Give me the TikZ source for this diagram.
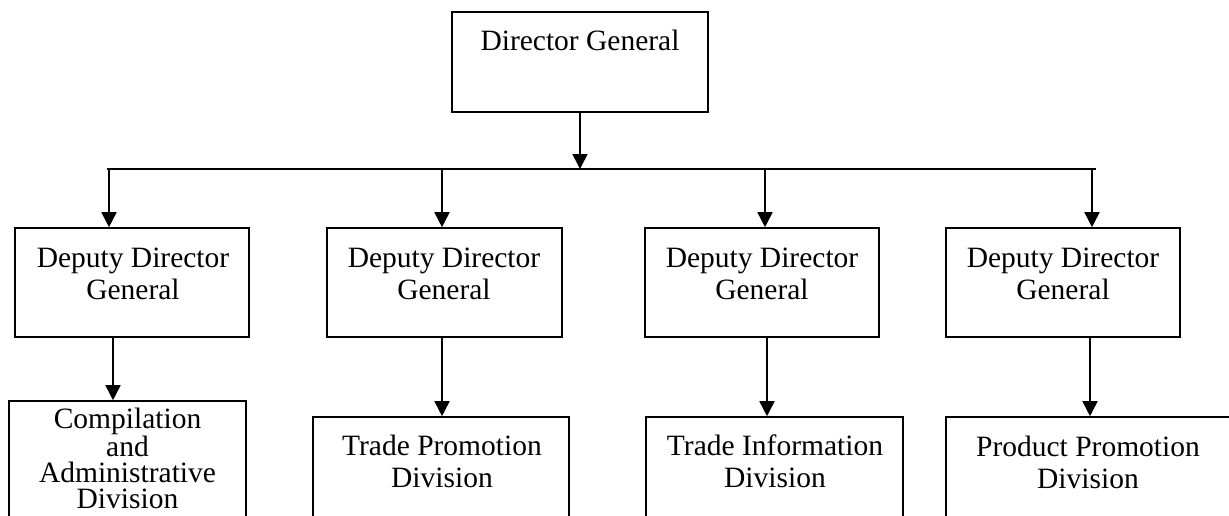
\documentclass[tikz,border=0pt]{standalone}
\usepackage{fontspec}
\setmainfont{Liberation Serif}
\usetikzlibrary{arrows.meta}
\begin{document}
\begin{tikzpicture}[x=1pt,y=-1pt,
  box/.style={draw, line width=1.6pt, rectangle, inner sep=0pt},
  lbl/.style={font=\fontsize{29.5}{32}\selectfont, align=center, inner sep=0pt, anchor=base},
  tight/.style={font=\fontsize{29.5}{25.7}\selectfont},
  link/.style={line width=1.6pt},
  arr/.style={link, -{Triangle[width=15pt,length=15pt]}}]

\path[use as bounding box] (0,0) rectangle (1229,515);
\clip (0,0) rectangle (1229,515);

% boxes
\node[box, minimum width=256pt, minimum height=100pt] (dg) at (580,62) {};
\node[box, minimum width=234pt, minimum height=109pt] (d1) at (132,282.5) {};
\node[box, minimum width=235pt, minimum height=109pt] (d2) at (444.5,282.5) {};
\node[box, minimum width=234pt, minimum height=109pt] (d3) at (762,282.5) {};
\node[box, minimum width=234pt, minimum height=109pt] (d4) at (1063,282.5) {};
\node[box, minimum width=237pt, minimum height=139pt] (b1) at (127.5,470.5) {};
\node[box, minimum width=256pt, minimum height=123pt] (b2) at (441,478.5) {};
\node[box, minimum width=257pt, minimum height=123pt] (b3) at (774.5,478.5) {};
\node[box, minimum width=284pt, minimum height=123pt] (b4) at (1088,478.5) {};

% labels (anchored on the baseline of their last line)
\node[lbl] (dgt) at (580,50) {Director General};
\node[lbl] (d1t) at (133,299) {Deputy Director\\General};
\node[lbl] (d2t) at (444,299) {Deputy Director\\General};
\node[lbl] (d3t) at (762,299) {Deputy Director\\General};
\node[lbl] (d4t) at (1063,299) {Deputy Director\\General};
\node[lbl, tight] (b1t) at (127.5,508) {Compilation\\and\\Administrative\\Division};
\node[lbl] (b2t) at (442,487) {Trade Promotion\\Division};
\node[lbl] (b3t) at (775,487) {Trade Information\\Division};
\node[lbl] (b4t) at (1088,488) {Product Promotion\\Division};

% distribution bar
\coordinate (busL) at (107,169);
\coordinate (busR) at (1096,169);
\draw[link] (busL) -- (busR);
\draw[arr] (dg.south) -- (dg.south |- busL);

% drops into the deputy boxes
\coordinate (t1) at (109,169);
\coordinate (t2) at (442,169);
\coordinate (t3) at (765,169);
\coordinate (t4) at (1092,169);
\draw[arr] (t1) -- (t1 |- d1.north);
\draw[arr] (t2) -- (t2 |- d2.north);
\draw[arr] (t3) -- (t3 |- d3.north);
\draw[arr] (t4) -- (t4 |- d4.north);

% deputy boxes to divisions
\coordinate (s1) at (113,0);
\coordinate (s2) at (442,0);
\coordinate (s3) at (767,0);
\coordinate (s4) at (1090,0);
\draw[arr] (d1.south -| s1) -- (b1.north -| s1);
\draw[arr] (d2.south -| s2) -- (b2.north -| s2);
\draw[arr] (d3.south -| s3) -- (b3.north -| s3);
\draw[arr] (d4.south -| s4) -- (b4.north -| s4);
\end{tikzpicture}
\end{document}
